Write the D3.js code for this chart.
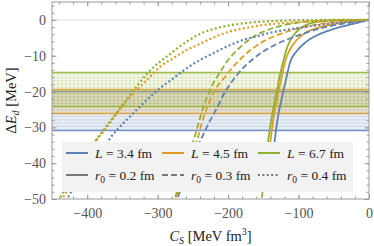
<!DOCTYPE html>
<html lang="en">
  <head>
    <meta charset="UTF-8" />
    <title>Delta E_d vs C_S</title>
    <style>
      body { margin: 0; background: white; }
      text { font-family: "Liberation Serif", "DejaVu Serif", serif; }
      .tick text { fill: #555; font-size: 14px; }
      .tick line { stroke: #999; }
    </style>
  </head>
  <body>
    <svg id="svg" width="374" height="246"></svg>
    <script src="https://cdn.jsdelivr.net/npm/d3@7"></script>
    <script>
      // box sizes L (fm) and effective ranges r0 (fm)
      const boxSizes = [3.4, 4.5, 6.7];
      const rangeR0 = [0.2, 0.3, 0.4];
      const colors = ["#5E81B5", "#E19C24", "#8FB032"];
      const dashes = [null, "6,3", "2,2.4"];

      // bands of Delta E_d per box size [low, high] in MeV
      const bandLow = [-30.9, -26.1, -24.2];
      const bandHigh = [-20.0, -19.4, -14.7];

      const xTicks = [-400, -300, -200, -100, 0];
      const yTicks = [0, -10, -20, -30, -40, -50];

      // curves [C_S, Delta E_d]
      const L34_r02 = [[-139,-44],[-134,-34],[-130,-28],[-124,-22],[-118,-16.8],[-112,-11.8],[-102.6,-8.7],[-88.4,-6.0],[-69.6,-3.9],[-48.3,-2.4],[-24.1,-1.2],[0,0]];
      const L45_r02 = [[-145,-44],[-140,-34],[-136,-28],[-130.5,-22],[-125,-16.8],[-118.5,-11.2],[-112,-8.2],[-102.6,-5.6],[-88.4,-3.4],[-69.6,-2.0],[-45.4,-1.0],[-22.7,-0.45],[0,0]];
      const L67_r02 = [[-152,-49.6],[-147,-40],[-142,-32],[-137,-26],[-131,-20],[-126,-15],[-121,-11],[-117,-8.2],[-113,-6.2],[-107.5,-4.4],[-98,-2.4],[-84,-1.0],[-65,-0.3],[-40,-0.08],[0,0]];

      const L34_r03 = [[-271,-49.4],[-256,-41],[-240,-34],[-228,-29],[-217,-25],[-206.8,-21],[-188,-15.5],[-164,-10.8],[-140.5,-7.7],[-121.7,-5.9],[-107,-4.8],[-84,-3.2],[-55,-1.7],[-28,-0.8],[0,0]];
      const L45_r03 = [[-273,-49.5],[-258,-41],[-244,-33.5],[-236,-28],[-227,-23],[-217,-19],[-206.8,-16.5],[-192.6,-13],[-178.5,-10.2],[-164,-7.8],[-150,-6.0],[-136,-4.7],[-121.7,-3.6],[-102.6,-2.5],[-80,-1.5],[-65,-1.0],[-40,-0.5],[0,0]];
      const L67_r03 = [[-275,-49.5],[-262,-41],[-248,-33],[-240,-27.5],[-231,-22],[-222,-18],[-212,-14.8],[-200,-11.2],[-188,-8.6],[-174,-6.1],[-159,-4.1],[-141,-2.6],[-122,-1.5],[-102,-0.8],[-70,-0.3],[-35,-0.05],[0,0]];

      const L34_r04 = [[-427,-49.5],[-400,-40.5],[-372.4,-34.5],[-367.7,-33.1],[-353.5,-29.8],[-339.3,-27.0],[-325.1,-24.2],[-310.9,-21.5],[-296.7,-19.1],[-277.8,-16.3],[-258.8,-13.5],[-240,-11.2],[-220,-9.2],[-197,-7.0],[-178.5,-5.6],[-159.4,-4.6],[-140.5,-3.6],[-121.7,-2.9],[-102.6,-2.3],[-70,-1.4],[-50,-0.9],[-25,-0.4],[0,0]];
      const L45_r04 = [[-434,-49.5],[-408,-41],[-386.6,-33.5],[-377.2,-31.2],[-363,-27.5],[-351.1,-24.2],[-339.3,-21.5],[-325.1,-18.7],[-310.9,-15.9],[-296.7,-13.1],[-277.8,-10.7],[-258.8,-8.4],[-240,-6.7],[-216,-4.5],[-197,-3.2],[-178.5,-2.4],[-159.4,-1.7],[-140.5,-1.2],[-121.7,-0.9],[-100,-0.6],[-70,-0.3],[-35,-0.1],[0,0]];
      const L67_r04 = [[-438,-49.5],[-412,-41],[-389,-34],[-375,-30.2],[-360,-26.4],[-345,-22.5],[-330,-18.6],[-315,-15],[-300,-12.2],[-285,-9.9],[-270,-7.6],[-255,-5.6],[-240,-3.9],[-220,-2.5],[-200,-1.6],[-180,-1.0],[-160,-0.6],[-130,-0.25],[-100,-0.1],[-50,0],[0,0]];

      const curves = [
        { L: 0, r: 0, pts: L34_r02 }, { L: 1, r: 0, pts: L45_r02 }, { L: 2, r: 0, pts: L67_r02 },
        { L: 0, r: 1, pts: L34_r03 }, { L: 1, r: 1, pts: L45_r03 }, { L: 2, r: 1, pts: L67_r03 },
        { L: 0, r: 2, pts: L34_r04 }, { L: 1, r: 2, pts: L45_r04 }, { L: 2, r: 2, pts: L67_r04 },
      ];

      const pLeft = 52, pRight = 369, pTop = 2, pBottom = 199;
      const svg = d3.select("#svg");

      const x = d3.scaleLinear().domain([-450, 0]).range([pLeft, pRight]);
      const y = d3.scaleLinear().domain([-50, 5]).range([pBottom, pTop]);

      const defs = svg.append("defs");
      defs.append("clipPath").attr("id", "clip")
        .append("rect").attr("x", pLeft).attr("y", pTop)
        .attr("width", pRight - pLeft).attr("height", pBottom - pTop);

      // hatch patterns for the bands
      const pb = defs.append("pattern").attr("id", "hatch0")
        .attr("patternUnits", "userSpaceOnUse").attr("width", 8).attr("height", 3.3);
      pb.append("line").attr("x1", 0).attr("x2", 8).attr("y1", 1).attr("y2", 1)
        .attr("stroke", colors[0]).attr("stroke-opacity", 0.35).attr("stroke-width", 0.8);
      const po = defs.append("pattern").attr("id", "hatch1")
        .attr("patternUnits", "userSpaceOnUse").attr("width", 4).attr("height", 8);
      po.append("line").attr("x1", 2).attr("x2", 2).attr("y1", 0).attr("y2", 8)
        .attr("stroke", colors[1]).attr("stroke-opacity", 0.4).attr("stroke-width", 0.8);
      const pg = defs.append("pattern").attr("id", "hatch2")
        .attr("patternUnits", "userSpaceOnUse").attr("width", 4).attr("height", 3.3);
      pg.append("circle").attr("cx", 2).attr("cy", 1.6).attr("r", 0.65)
        .attr("fill", colors[2]).attr("fill-opacity", 0.8);

      const plot = svg.append("g").attr("clip-path", "url(#clip)");

      // zero line
      plot.append("line")
        .attr("x1", pLeft).attr("x2", pRight).attr("y1", y(0)).attr("y2", y(0))
        .attr("stroke", "#ddd").attr("stroke-width", 1);

      // bands
      boxSizes.forEach((L, i) => {
        const g = plot.append("g");
        const y0 = y(bandHigh[i]), y1 = y(bandLow[i]);
        g.append("rect").attr("x", pLeft).attr("width", pRight - pLeft)
          .attr("y", y0).attr("height", y1 - y0)
          .attr("fill", colors[i]).attr("fill-opacity", 0.13);
        g.append("rect").attr("x", pLeft).attr("width", pRight - pLeft)
          .attr("y", y0).attr("height", y1 - y0)
          .attr("fill", `url(#hatch${i})`);
        [y0, y1].forEach((yy) => {
          g.append("line").attr("x1", pLeft).attr("x2", pRight)
            .attr("y1", yy).attr("y2", yy)
            .attr("stroke", colors[i]).attr("stroke-width", 1.5).attr("stroke-opacity", 0.85);
        });
      });

      // curves
      const line = d3.line()
        .x((d) => x(d[0]))
        .y((d) => y(d[1]))
        .curve(d3.curveMonotoneX);

      plot.selectAll(".curve")
        .data(curves)
        .enter()
        .append("path")
        .attr("class", "curve")
        .attr("d", (d) => line(d.pts))
        .attr("fill", "none")
        .attr("stroke", (d) => colors[d.L])
        .attr("stroke-width", (d) => (d.r === 2 ? 2.2 : 1.8))
        .attr("stroke-dasharray", (d) => dashes[d.r]);

      // frame
      svg.append("rect")
        .attr("x", pLeft).attr("y", pTop)
        .attr("width", pRight - pLeft).attr("height", pBottom - pTop)
        .attr("fill", "none").attr("stroke", "#999").attr("stroke-width", 1);

      // ticks
      const xMinor = d3.range(-440, 1, 20);
      const yMinor = d3.range(-50, 5, 2);

      function addAxis(axis, transform) {
        const g = svg.append("g").attr("transform", transform).call(axis);
        g.select(".domain").remove();
        return g;
      }

      addAxis(d3.axisBottom(x).tickValues(xMinor).tickSize(-2.5).tickFormat(""), `translate(0,${pBottom})`);
      addAxis(d3.axisTop(x).tickValues(xMinor).tickSize(-2.5).tickFormat(""), `translate(0,${pTop})`);
      addAxis(d3.axisLeft(y).tickValues(yMinor).tickSize(-2.5).tickFormat(""), `translate(${pLeft},0)`);
      addAxis(d3.axisRight(y).tickValues(yMinor).tickSize(-2.5).tickFormat(""), `translate(${pRight},0)`);

      const xa = addAxis(d3.axisBottom(x).tickValues(xTicks).tickSize(-4.5).tickPadding(9), `translate(0,${pBottom})`);
      xa.selectAll("text").attr("dy", "0.71em");
      addAxis(d3.axisTop(x).tickValues(xTicks).tickSize(-4.5).tickFormat(""), `translate(0,${pTop})`);
      addAxis(d3.axisLeft(y).tickValues(yTicks).tickSize(-4.5).tickPadding(6), `translate(${pLeft},0)`);
      addAxis(d3.axisRight(y).tickValues(yTicks).tickSize(-4.5).tickFormat(""), `translate(${pRight},0)`);

      // axis labels
      const xl = svg.append("text")
        .attr("x", (pLeft + pRight) / 2).attr("y", 241)
        .attr("text-anchor", "middle").attr("font-size", 14.5).attr("fill", "#222");
      xl.append("tspan").attr("font-style", "italic").text("C");
      xl.append("tspan").attr("font-style", "italic").attr("font-size", 10).attr("dy", 3).text("S");
      xl.append("tspan").attr("dy", -3).text(" [MeV fm");
      xl.append("tspan").attr("font-size", 10).attr("dy", -6).text("3");
      xl.append("tspan").attr("dy", 6).text("]");

      const yl = svg.append("text")
        .attr("transform", `translate(16,${(pTop + pBottom) / 2}) rotate(-90)`)
        .attr("text-anchor", "middle").attr("font-size", 14.5).attr("fill", "#222");
      yl.append("tspan").text("Δ");
      yl.append("tspan").attr("font-style", "italic").text("E");
      yl.append("tspan").attr("font-style", "italic").attr("font-size", 10).attr("dy", 3).text("d");
      yl.append("tspan").attr("dy", -3).text(" [MeV]");

      // legend
      const leg = svg.append("g");
      leg.append("rect")
        .attr("x", 62).attr("y", 142).attr("width", 291).attr("height", 50)
        .attr("fill", "#f2f2f2");
      const colX = [66, 162, 258];
      const rowY = [153, 175];
      boxSizes.forEach((L, i) => {
        leg.append("line")
          .attr("x1", colX[i]).attr("x2", colX[i] + 22)
          .attr("y1", rowY[0]).attr("y2", rowY[0])
          .attr("stroke", colors[i]).attr("stroke-width", 2);
        const t = leg.append("text")
          .attr("x", colX[i] + 29).attr("y", rowY[0]).attr("dy", "0.35em")
          .attr("font-size", 13.5).attr("fill", "#222");
        t.append("tspan").attr("font-style", "italic").text("L");
        t.append("tspan").text(` = ${L} fm`);
      });
      rangeR0.forEach((r, i) => {
        leg.append("line")
          .attr("x1", colX[i]).attr("x2", colX[i] + 22)
          .attr("y1", rowY[1]).attr("y2", rowY[1])
          .attr("stroke", "#777").attr("stroke-width", 2)
          .attr("stroke-dasharray", dashes[i]);
        const t = leg.append("text")
          .attr("x", colX[i] + 29).attr("y", rowY[1]).attr("dy", "0.35em")
          .attr("font-size", 13.5).attr("fill", "#222");
        t.append("tspan").attr("font-style", "italic").text("r");
        t.append("tspan").attr("font-size", 9.5).attr("dy", 3).text("0");
        t.append("tspan").attr("dy", -3).text(` = ${r} fm`);
      });
    </script>
  </body>
</html>
